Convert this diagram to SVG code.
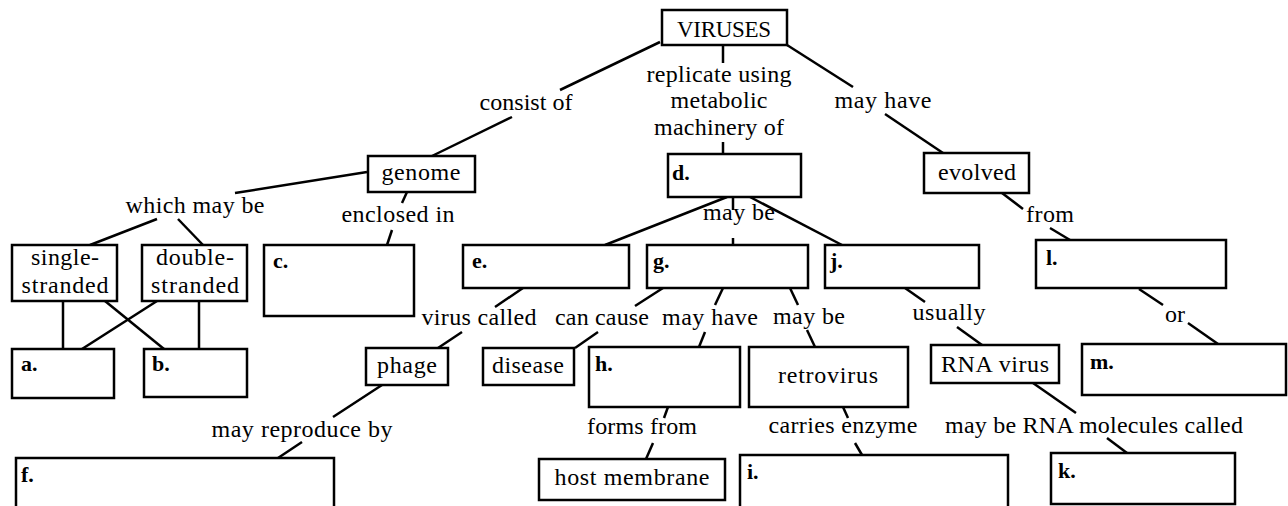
<svg xmlns="http://www.w3.org/2000/svg" width="1288" height="506" viewBox="0 0 1288 506">
<style>
.box{fill:#fff;stroke:#000;stroke-width:2.5}
.t{font-family:"Liberation Serif","DejaVu Serif","Times New Roman",serif;font-size:24px;fill:#000;text-anchor:middle}
.b{font-family:"Liberation Serif","DejaVu Serif","Times New Roman",serif;font-size:22px;font-weight:bold;fill:#000}
.c line{stroke:#000;stroke-width:2.5;stroke-linecap:butt}
</style>
<rect width="1288" height="506" fill="#fff"/>
<g class="c" id="connectors">
<line x1="660" y1="42" x2="560" y2="90"/>
<line x1="512" y1="117" x2="432" y2="156"/>
<line x1="723" y1="45" x2="723" y2="63"/>
<line x1="723" y1="142" x2="723" y2="154"/>
<line x1="787" y1="45" x2="853" y2="87"/>
<line x1="885" y1="114" x2="943" y2="153"/>
<line x1="1002" y1="193" x2="1023" y2="209"/>
<line x1="1050" y1="228" x2="1070" y2="240"/>
<line x1="1139" y1="289" x2="1163" y2="305"/>
<line x1="1188" y1="323" x2="1218" y2="344"/>
<line x1="727" y1="197" x2="605" y2="245"/>
<line x1="750" y1="197" x2="842" y2="245"/>
<line x1="733" y1="197" x2="733" y2="210"/>
<line x1="733" y1="238" x2="733" y2="245"/>
<line x1="367" y1="172" x2="235" y2="193"/>
<line x1="157" y1="219" x2="90" y2="245"/>
<line x1="178" y1="219" x2="203" y2="245"/>
<line x1="407" y1="192" x2="402" y2="203"/>
<line x1="392" y1="230" x2="387" y2="245"/>
<line x1="63" y1="301" x2="63" y2="349"/>
<line x1="105" y1="301" x2="164" y2="349"/>
<line x1="157" y1="301" x2="82" y2="349"/>
<line x1="199" y1="301" x2="199" y2="349"/>
<line x1="523" y1="288" x2="495" y2="307"/>
<line x1="462" y1="332" x2="438" y2="348"/>
<line x1="382" y1="385" x2="333" y2="417"/>
<line x1="302" y1="442" x2="278" y2="458"/>
<line x1="663" y1="288" x2="635" y2="306"/>
<line x1="598" y1="332" x2="575" y2="348"/>
<line x1="723" y1="288" x2="715" y2="305"/>
<line x1="705" y1="332" x2="699" y2="347"/>
<line x1="668" y1="407" x2="664" y2="418"/>
<line x1="653" y1="443" x2="646" y2="459"/>
<line x1="790" y1="288" x2="798" y2="305"/>
<line x1="807" y1="330" x2="815" y2="347"/>
<line x1="843" y1="407" x2="848" y2="418"/>
<line x1="855" y1="443" x2="862" y2="455"/>
<line x1="905" y1="288" x2="925" y2="302"/>
<line x1="957" y1="327" x2="982" y2="345"/>
<line x1="1033" y1="383" x2="1076" y2="413"/>
<line x1="1107" y1="438" x2="1127" y2="453"/>
</g>
<g id="labels">
<text class="t" x="526" y="110" textLength="93">consist of</text>
<text class="t" x="719" y="82" textLength="145">replicate using</text>
<text class="t" x="719" y="108" textLength="97">metabolic</text>
<text class="t" x="719" y="135" textLength="130">machinery of</text>
<text class="t" x="883" y="108" textLength="97">may have</text>
<text class="t" x="195" y="213" textLength="139">which may be</text>
<text class="t" x="398" y="222" textLength="113">enclosed in</text>
<text class="t" x="739" y="220" textLength="72">may be</text>
<text class="t" x="1050" y="222" textLength="48">from</text>
<text class="t" x="479" y="325" textLength="115">virus called</text>
<text class="t" x="602" y="325" textLength="94">can cause</text>
<text class="t" x="710" y="325" textLength="96">may have</text>
<text class="t" x="809" y="324" textLength="72">may be</text>
<text class="t" x="949" y="320" textLength="73">usually</text>
<text class="t" x="1175" y="322" textLength="20">or</text>
<text class="t" x="302" y="437" textLength="181">may reproduce by</text>
<text class="t" x="642" y="434" textLength="110">forms from</text>
<text class="t" x="843" y="433" textLength="149">carries enzyme</text>
<text class="t" x="1094" y="433" textLength="298">may be RNA molecules called</text>
</g>
<g id="viruses"><rect class="box" x="662" y="10" width="125" height="35"/><text class="t" x="724" y="37" style="font-size:23px" textLength="94">VIRUSES</text></g>
<g id="genome"><rect class="box" x="368" y="156" width="107" height="36"/><text class="t" x="421" y="180" textLength="79">genome</text></g>
<g id="d"><rect class="box" x="668" y="154" width="133" height="43"/><text class="b" x="672" y="180">d.</text></g>
<g id="evolved"><rect class="box" x="924" y="153" width="105" height="40"/><text class="t" x="977" y="180" textLength="78">evolved</text></g>
<g id="single"><rect class="box" x="12" y="245" width="105" height="56"/><text class="t" x="65" y="265" textLength="68">single-</text><text class="t" x="65" y="293" textLength="87">stranded</text></g>
<g id="double"><rect class="box" x="142" y="245" width="105" height="56"/><text class="t" x="195" y="265" textLength="78">double-</text><text class="t" x="195" y="293" textLength="88">stranded</text></g>
<g id="c"><rect class="box" x="264" y="245" width="150" height="71"/><text class="b" x="273" y="268">c.</text></g>
<g id="e"><rect class="box" x="463" y="245" width="166" height="43"/><text class="b" x="472" y="268">e.</text></g>
<g id="g"><rect class="box" x="647" y="245" width="161" height="43"/><text class="b" x="653" y="268">g.</text></g>
<g id="j"><rect class="box" x="825" y="245" width="154" height="43"/><text class="b" x="830" y="268">j.</text></g>
<g id="l"><rect class="box" x="1036" y="240" width="190" height="48"/><text class="b" x="1046" y="265">l.</text></g>
<g id="a"><rect class="box" x="12" y="349" width="102" height="49"/><text class="b" x="21" y="371">a.</text></g>
<g id="b"><rect class="box" x="144" y="349" width="103" height="48"/><text class="b" x="152" y="371">b.</text></g>
<g id="phage"><rect class="box" x="366" y="348" width="82" height="37"/><text class="t" x="407" y="373" textLength="60">phage</text></g>
<g id="disease"><rect class="box" x="483" y="348" width="91" height="37"/><text class="t" x="528" y="373" textLength="72">disease</text></g>
<g id="h"><rect class="box" x="589" y="347" width="151" height="60"/><text class="b" x="595" y="371">h.</text></g>
<g id="retrovirus"><rect class="box" x="749" y="347" width="159" height="60"/><text class="t" x="828" y="383" textLength="100">retrovirus</text></g>
<g id="rnavirus"><rect class="box" x="931" y="345" width="128" height="38"/><text class="t" x="995" y="372" textLength="108">RNA virus</text></g>
<g id="m"><rect class="box" x="1082" y="344" width="204" height="51"/><text class="b" x="1090" y="369">m.</text></g>
<g id="f"><rect class="box" x="16" y="458" width="318" height="60"/><text class="b" x="21" y="482">f.</text></g>
<g id="hostmembrane"><rect class="box" x="539" y="459" width="186" height="41"/><text class="t" x="632" y="485" textLength="155">host membrane</text></g>
<g id="i"><rect class="box" x="740" y="455" width="268" height="60"/><text class="b" x="747" y="479">i.</text></g>
<g id="k"><rect class="box" x="1051" y="453" width="184" height="51"/><text class="b" x="1058" y="478">k.</text></g>
</svg>
